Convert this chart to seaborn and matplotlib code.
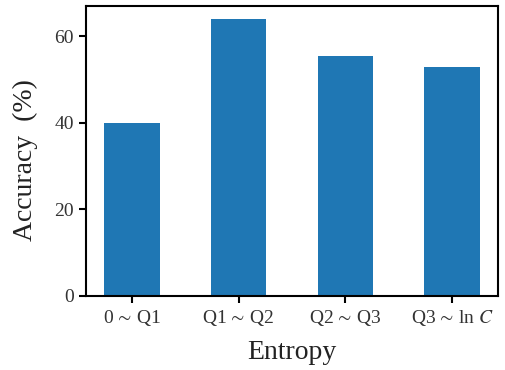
import numpy as np
import pandas as pd
import matplotlib
matplotlib.use("Agg")
import matplotlib.pyplot as plt
import seaborn as sns

# data
entropy_bins = [r"0$\,\sim\,$Q1", r"Q1$\,\sim\,$Q2", r"Q2$\,\sim\,$Q3", r"Q3$\,\sim\,$ln $C$"]
accuracy = [40.0, 64.0, 55.5, 53.0]

df = pd.DataFrame({'entropy': entropy_bins, 'accuracy': accuracy})

sns.set_style('ticks')
plt.rcParams['font.family'] = ['Liberation Serif', 'DejaVu Serif']
plt.rcParams['mathtext.fontset'] = 'stix'

fig = plt.figure(figsize=(5.05, 3.7), dpi=100)
ax = fig.add_axes([0.170, 0.20, 0.816, 0.784])

sns.barplot(data=df, x='entropy', y='accuracy', color='#1f77b4', saturation=1,
            width=0.52, linewidth=0, ax=ax)

ax.set_xlim(-0.43, 3.43)
ax.set_ylim(0, 67)
ax.set_yticks([0, 20, 40, 60])
ax.set_xlabel('Entropy', fontsize=20, color='#222222', labelpad=9)
ax.set_ylabel('Accuracy  (%)', fontsize=20, color='#222222')
ax.yaxis.set_label_coords(-0.115, 0.47)
ax.tick_params(axis='both', labelsize=14, length=5, width=1.5, color='black',
               labelcolor='#333333')
for s in ax.spines.values():
    s.set_linewidth(1.5)
    s.set_color('black')

fig.savefig('out.png', dpi=100)
